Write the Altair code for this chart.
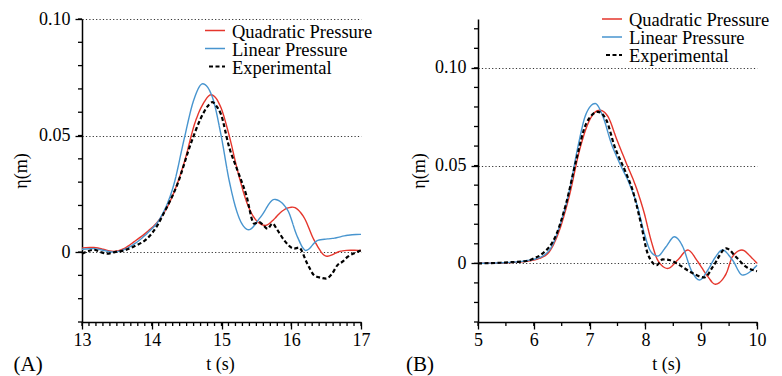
import altair as alt
import pandas as pd

# ---------------- data ----------------
series_names = ["Quadratic Pressure", "Linear Pressure", "Experimental"]
panel_labels = ["(A)", "(B)"]

# Panel A
tA_quad = [13.0, 13.17, 13.3, 13.45, 13.6, 13.75, 13.93, 14.1, 14.27, 14.46, 14.63, 14.75, 14.85,
           14.99, 15.11, 15.23, 15.37, 15.52, 15.63, 15.75, 15.85, 16.02, 16.18, 16.33, 16.51,
           16.71, 16.85, 17.0]
eA_quad = [0.0018, 0.002, 0.0012, 0.0003, 0.0015, 0.0045, 0.0086, 0.0136, 0.0222, 0.0379, 0.0564,
           0.0643, 0.0675, 0.0621, 0.05, 0.035, 0.0207, 0.0129, 0.0114, 0.014, 0.0171, 0.0193,
           0.015, 0.005, -0.0018, 0.0004, 0.0008, 0.0007]

tA_lin = [13.0, 13.17, 13.3, 13.45, 13.6, 13.75, 13.93, 14.13, 14.32, 14.46, 14.6, 14.73, 14.87,
          14.99, 15.11, 15.23, 15.39, 15.56, 15.76, 15.95, 16.09, 16.21, 16.38, 16.62, 16.81, 17.0]
eA_lin = [0.0012, 0.0015, 0.0008, 0.0, 0.001, 0.0035, 0.0079, 0.015, 0.0293, 0.0479, 0.065, 0.0722,
          0.0664, 0.0507, 0.0307, 0.0165, 0.0096, 0.015, 0.0226, 0.0179, 0.0064, 0.0007, 0.005,
          0.006, 0.0072, 0.0076]

tA_exp = [13.0, 13.08, 13.17, 13.25, 13.36, 13.47, 13.6, 13.75, 13.93, 14.08, 14.17, 14.37, 14.56,
          14.7, 14.8, 14.87, 14.93, 14.99, 15.11, 15.23, 15.35, 15.47, 15.54, 15.6, 15.66, 15.73,
          15.8, 15.9, 16.04, 16.11, 16.23, 16.33, 16.42, 16.5, 16.58, 16.66, 16.74, 16.81, 16.9, 17.0]
eA_exp = [-0.0007, 0.0003, 0.001, 0.0002, -0.0007, 0.0, 0.0007, 0.0025, 0.0057, 0.0114, 0.0165,
          0.0293, 0.0465, 0.0572, 0.0625, 0.0643, 0.0625, 0.0593, 0.045, 0.035, 0.025, 0.0122,
          0.0129, 0.0115, 0.01, 0.0122, 0.0095, 0.005, 0.0015, 0.0019, -0.005, -0.01, -0.011,
          -0.0114, -0.0095, -0.0057, -0.004, -0.002, -0.0005, 0.0007]

# Panel B
tB_quad = [5.0, 5.5, 5.9, 6.1, 6.28, 6.46, 6.64, 6.82, 7.0, 7.18, 7.33, 7.48, 7.66, 7.83, 7.98,
           8.1, 8.22, 8.4, 8.58, 8.76, 8.94, 9.12, 9.25, 9.45, 9.56, 9.73, 9.9, 10.0]
eB_quad = [0.0, 0.0003, 0.0012, 0.0025, 0.006, 0.017, 0.0349, 0.0579, 0.0733, 0.0784, 0.075,
           0.0639, 0.0511, 0.0392, 0.0256, 0.0119, 0.0017, -0.0026, 0.0017, 0.0068, 0.0008,
           -0.0068, -0.0107, -0.0051, 0.0034, 0.0068, 0.003, 0.0]

tB_lin = [5.0, 5.57, 6.05, 6.28, 6.46, 6.64, 6.79, 6.94, 7.1, 7.24, 7.39, 7.54, 7.71, 7.86, 7.98,
          8.1, 8.22, 8.37, 8.52, 8.67, 8.82, 8.97, 9.12, 9.25, 9.38, 9.56, 9.74, 10.0]
eB_lin = [0.0, 0.0005, 0.0025, 0.0068, 0.0187, 0.0375, 0.0596, 0.0767, 0.0818, 0.075, 0.0613,
          0.0511, 0.0409, 0.0289, 0.0153, 0.0059, 0.0037, 0.0085, 0.0136, 0.0085, -0.0034,
          -0.0085, -0.0034, 0.003, 0.0068, 0.0017, -0.006, -0.001]

tB_exp = [5.0, 5.2, 5.4, 5.6, 5.87, 6.0, 6.16, 6.4, 6.58, 6.76, 6.94, 7.15, 7.3, 7.45, 7.63, 7.77,
          7.92, 8.04, 8.2, 8.31, 8.43, 8.61, 8.85, 9.06, 9.21, 9.45, 9.62, 9.8, 10.0]
eB_exp = [0.0, 0.0001, 0.0003, 0.0006, 0.0012, 0.0025, 0.0051, 0.0145, 0.0307, 0.0528, 0.0716,
          0.0775, 0.0733, 0.0596, 0.0477, 0.0375, 0.0204, 0.0051, -0.0009, 0.002, 0.0017,
          -0.0009, -0.0051, -0.0072, -0.0017, 0.0077, 0.0034, -0.0017, -0.004]

# axis tick values
xA_major = [13, 14, 15, 16, 17]
xA_minor = [round(13 + 0.1 * i, 1) for i in range(41)]
xB_major = [5, 6, 7, 8, 9, 10]
xB_minor = [round(5 + 0.5 * i, 1) for i in range(11)]
yA_major = [0.0, 0.05, 0.10]
yA_minor = [round(-0.03 + 0.01 * i, 2) for i in range(14)]
yB_major = [0.0, 0.05, 0.10]
yB_minor = [round(-0.03 + 0.01 * i, 2) for i in range(16)]

# ---------------- style ----------------
W, H = 279, 303
FONT = "Liberation Serif"
FS = 18
RED = "#e5362c"
BLUE = "#4895cf"
BLACK = "#000000"
colors = [RED, BLUE, BLACK]
dashes = [[4, 0], [4, 0], [4, 2.5]]
widths = [1.4, 1.4, 2.2]
MAJ, MIN = 7, 4


def x_axis(vals, title_x):
    return alt.Axis(
        values=vals, title="t (s)", grid=False, format="d",
        tickSize=MAJ, tickWidth=1.3, tickColor="black",
        domainColor="black", domainWidth=1.5,
        labelFont=FONT, labelFontSize=FS, labelColor="black",
        titleFont=FONT, titleFontSize=FS, titleColor="black", titleFontWeight="normal",
        labelFlush=False, labelOverlap=False, labelPadding=2,
        titleX=title_x, titleY=42, titleBaseline="middle", titleAlign="center",
    )


def y_axis(vals, title_x):
    return alt.Axis(
        values=vals, title="η(m)", grid=True,
        gridColor="#333333", gridDash=[1.2, 2.2], gridWidth=1,
        labelExpr="abs(datum.value) < 1e-9 ? '0' : format(datum.value, '.2f')",
        tickSize=MAJ, tickWidth=1.3, tickColor="black",
        domainColor="black", domainWidth=1.5,
        labelFont=FONT, labelFontSize=FS, labelColor="black",
        titleFont=FONT, titleFontSize=FS, titleColor="black", titleFontWeight="normal",
        labelFlush=False, labelOverlap=False, labelPadding=5,
        titleX=title_x, titleY=H / 2, titleAngle=270, titleBaseline="middle", titleAlign="center",
    )


def panel(ts, es, xdom, ydom, xmaj, xmin, ymaj, ymin, ytitle_x, xtitle_x, label, label_x,
          leg_y0, leg_x0, frame=False):
    xs = alt.Scale(domain=xdom, nice=False, zero=False)
    ys = alt.Scale(domain=ydom, nice=False, zero=False)
    xe = alt.X("t:Q", scale=xs, axis=x_axis(xmaj, xtitle_x))
    ye = alt.Y("eta:Q", scale=ys, axis=y_axis(ymaj, ytitle_x))
    layers = []
    for i, name in enumerate(series_names):
        df = pd.DataFrame({"t": ts[i], "eta": es[i]})
        layers.append(
            alt.Chart(df).mark_line(color=colors[i], strokeDash=dashes[i], strokeWidth=widths[i],
                                    interpolate="monotone").encode(x=xe, y=ye)
        )
    # minor ticks (same scales / axes as the lines)
    layers.append(
        alt.Chart(pd.DataFrame({"t": xmin})).mark_rule(color="black", strokeWidth=1.3).encode(
            x=xe, y=alt.value(H), y2=alt.value(H + MIN))
    )
    layers.append(
        alt.Chart(pd.DataFrame({"eta": ymin})).mark_rule(color="black", strokeWidth=1.3).encode(
            y=ye, x=alt.value(-MIN), x2=alt.value(0))
    )
    # legend
    for i, name in enumerate(series_names):
        yy = leg_y0 + 18 * i
        ldf = pd.DataFrame({"name": [name]})
        if i == 2:
            x1, x2 = leg_x0 + 4, leg_x0 + 20
        else:
            x1, x2 = leg_x0, leg_x0 + 20
        layers.append(
            alt.Chart(ldf).mark_rule(color=colors[i], strokeDash=dashes[i], strokeWidth=widths[i]).encode(
                x=alt.value(x1), x2=alt.value(x2), y=alt.value(yy))
        )
        layers.append(
            alt.Chart(ldf).mark_text(align="left", baseline="middle", font=FONT, fontSize=18.5,
                                     color="black", dy=1).encode(
                text="name:N", x=alt.value(leg_x0 + 27), y=alt.value(yy))
        )
    pl = pd.DataFrame({"p": [label]})
    layers.append(
        alt.Chart(pl).mark_text(align="left", baseline="alphabetic", font=FONT, fontSize=21,
                                color="black").encode(
            text="p:N", x=alt.value(label_x), y=alt.value(352))
    )
    if frame:
        layers.append(
            alt.Chart(pl).mark_rule(opacity=0).encode(
                x=alt.value(-82), y=alt.value(-18.5), y2=alt.value(376 - 18.5))
        )
    return alt.layer(*layers).properties(width=W, height=H)


left = panel([tA_quad, tA_lin, tA_exp], [eA_quad, eA_lin, eA_exp], [13, 17], [-0.03, 0.10],
             xA_major, xA_minor, yA_major, yA_minor, -61, 138, panel_labels[0], -68.5, 11.5, 123,
             frame=True)
right = panel([tB_quad, tB_lin, tB_exp], [eB_quad, eB_lin, eB_exp], [5, 10], [-0.03, 0.125],
              xB_major, xB_minor, yB_major, yB_minor, -59, 188, panel_labels[1], -72, 0, 124)

chart = alt.hconcat(left, right, spacing=117, bounds="flush",
                    padding={"left": 0, "top": 0, "right": 0, "bottom": 0}).configure(
    font=FONT
).configure_view(
    stroke=None
).configure_axis(
    labelFont=FONT, titleFont=FONT
).configure_text(font=FONT)

chart.save("out.html", embed_options={"renderer": "svg", "actions": False})
